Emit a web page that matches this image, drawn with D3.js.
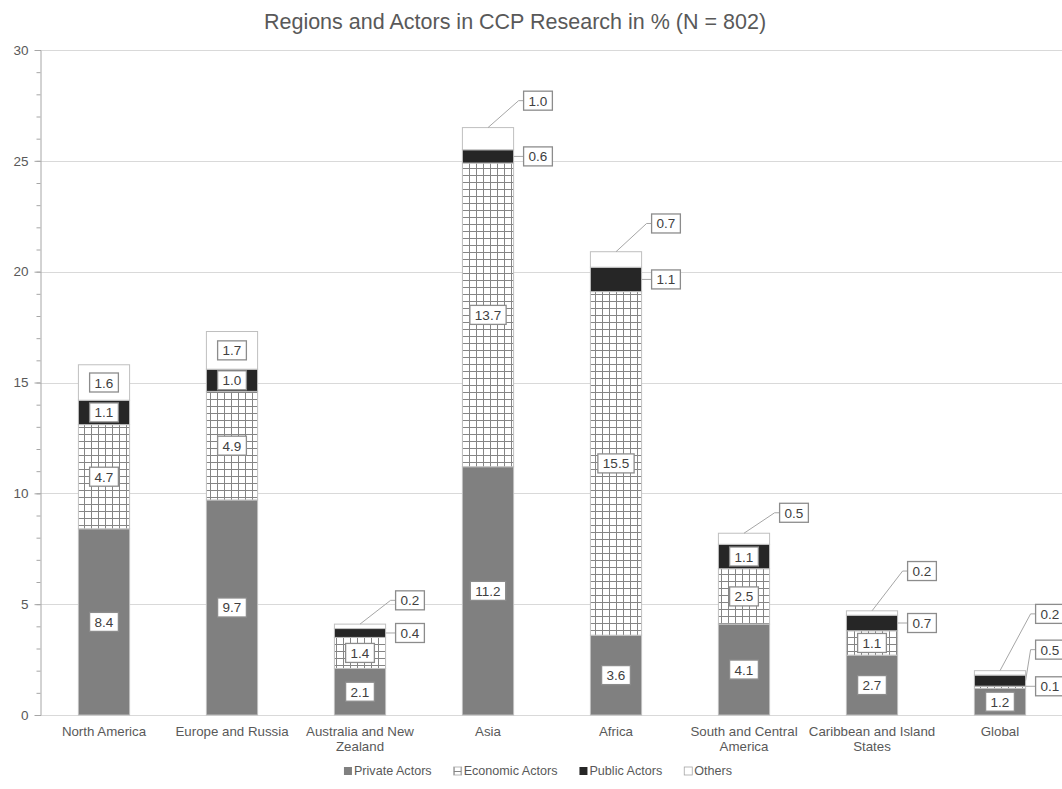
<!DOCTYPE html>
<html>
<head>
<meta charset="utf-8">
<script src="https://cdn.jsdelivr.net/npm/d3@7/dist/d3.min.js"></script>
<style>
  html, body { margin: 0; padding: 0; background: #fff; }
  svg { display: block; font-family: "Liberation Sans", Arial, sans-serif; }
</style>
</head>
<body>
<svg id="chart" width="1062" height="789"></svg>
<script>
// ---- data -------------------------------------------------------------
const categories = ["North America", "Europe and Russia", "Australia and New Zealand",
  "Asia", "Africa", "South and Central America", "Caribbean and Island States", "Global"];
const seriesNames = ["Private Actors", "Economic Actors", "Public Actors", "Others"];
const privateActors  = [8.4, 9.7, 2.1, 11.2, 3.6, 4.1, 2.7, 1.2];
const economicActors = [4.7, 4.9, 1.4, 13.7, 15.5, 2.5, 1.1, 0.1];
const publicActors   = [1.1, 1.0, 0.4, 0.6, 1.1, 1.1, 0.7, 0.5];
const others         = [1.6, 1.7, 0.2, 1.0, 0.7, 0.5, 0.2, 0.2];
const yTicks = [0, 5, 10, 15, 20, 25, 30];
const title = "Regions and Actors in CCP Research in % (N = 802)";

// labels placed beside the bar: [category index, series index, vertical shift in px]
const sideLabels = [
  [2, 3, -26], [2, 2, 0],
  [3, 3, -38], [3, 2, 0],
  [4, 3, -36], [4, 2, 0],
  [5, 3, -26],
  [6, 3, -42], [6, 2, 0],
  [7, 3, -59], [7, 2, -31], [7, 1, -1]
];

// ---- setup ------------------------------------------------------------
const svg = d3.select("#chart");
const W = 1062, H = 789;
const textColor = "#595959";

const x = d3.scaleBand().domain(categories).range([40, 40 + 128 * 8]).paddingInner(0.6).paddingOuter(0.3);
const y = d3.scaleLinear().domain([0, 30]).range([715, 50]);

const table = categories.map((c, i) => ({
  cat: c,
  "Private Actors": privateActors[i],
  "Economic Actors": economicActors[i],
  "Public Actors": publicActors[i],
  "Others": others[i]
}));
const stacked = d3.stack().keys(seriesNames)(table);

// grid pattern for economic actors
const defs = svg.append("defs");
const pat = defs.append("pattern").attr("id", "grid")
  .attr("patternUnits", "userSpaceOnUse").attr("width", 7).attr("height", 7);
pat.append("rect").attr("width", 7).attr("height", 7).attr("fill", "#fff");
pat.append("path").attr("d", "M0.5,0V7M0,0.5H7").attr("stroke", "#858585").attr("stroke-width", 1);

const fills = {
  "Private Actors": "#808080",
  "Economic Actors": "url(#grid)",
  "Public Actors": "#262626",
  "Others": "#ffffff"
};

// title
svg.append("text").attr("x", 515).attr("y", 29).attr("text-anchor", "middle")
  .attr("font-size", 21.5).attr("fill", textColor).text(title);

// gridlines
svg.append("g").selectAll("line").data(yTicks).join("line")
  .attr("x1", 40).attr("x2", W).attr("y1", d => Math.round(y(d)) + 0.5).attr("y2", d => Math.round(y(d)) + 0.5)
  .attr("stroke", "#d9d9d9").attr("stroke-width", 1);

// y axis with minor ticks
const yAxisG = svg.append("g").attr("transform", "translate(40.5,0)");
yAxisG.call(d3.axisLeft(y).tickValues(d3.range(0, 31, 1)).tickSize(4).tickFormat(""));
yAxisG.select(".domain").attr("stroke", "#a6a6a6");
yAxisG.selectAll(".tick line").attr("stroke", "#a6a6a6");
const yMajor = svg.append("g").attr("transform", "translate(40.5,0)");
yMajor.call(d3.axisLeft(y).tickValues(yTicks).tickSize(6).tickPadding(6).tickFormat(d3.format("d")));
yMajor.select(".domain").remove();
yMajor.selectAll(".tick line").attr("stroke", "#a6a6a6");
yMajor.selectAll(".tick text").attr("fill", textColor).attr("font-size", 13.5)
  .attr("font-family", "Liberation Sans, Arial, sans-serif");

// bars
const barG = svg.append("g");
stacked.forEach(layer => {
  barG.append("g").selectAll("rect").data(layer).join("rect")
    .attr("x", d => x(d.data.cat))
    .attr("width", x.bandwidth())
    .attr("y", d => y(d[1]))
    .attr("height", d => y(d[0]) - y(d[1]))
    .attr("fill", fills[layer.key])
    .attr("stroke", "#bfbfbf").attr("stroke-width", 1);
});

// x axis labels
const xAxisG = svg.append("g").attr("transform", "translate(0,715)");
xAxisG.call(d3.axisBottom(x).tickSize(0).tickPadding(12));
xAxisG.select(".domain").remove();
xAxisG.selectAll(".tick text").attr("fill", textColor).attr("font-size", 13.3)
  .attr("font-family", "Liberation Sans, Arial, sans-serif")
  .each(function () { wrap(d3.select(this), 132); });

function wrap(textSel, width) {
  const words = textSel.text().split(/\s+/);
  const xPos = textSel.attr("x") || 0;
  const yPos = textSel.attr("y");
  const dy = parseFloat(textSel.attr("dy")) || 0;
  textSel.text(null);
  let line = [];
  let lineNo = 0;
  let tspan = textSel.append("tspan").attr("x", xPos).attr("y", yPos).attr("dy", dy + "em");
  for (const w of words) {
    line.push(w);
    tspan.text(line.join(" "));
    if (tspan.node().getComputedTextLength() > width && line.length > 1) {
      line.pop();
      tspan.text(line.join(" "));
      line = [w];
      lineNo++;
      tspan = textSel.append("tspan").attr("x", xPos).attr("y", yPos)
        .attr("dy", (dy + lineNo * 1.1) + "em").text(w);
    }
  }
}

// value labels
const labelG = svg.append("g");
const fmt = d3.format(".1f");
const isSide = (ci, si) => sideLabels.some(s => s[0] === ci && s[1] === si);

function labelBox(cx, cy, txt, anchor) {
  const g = labelG.append("g");
  const t = g.append("text").attr("font-size", 13.5).attr("fill", "#404040")
    .attr("dominant-baseline", "central").text(txt);
  const w = t.node().getComputedTextLength() + 10;
  const h = 19;
  const left = anchor === "left" ? cx : cx - w / 2;
  g.insert("rect", "text").attr("x", left).attr("y", cy - h / 2).attr("width", w).attr("height", h)
    .attr("fill", "#fff").attr("stroke", "#8c8c8c").attr("stroke-width", 1.3);
  t.attr("x", left + w / 2).attr("y", cy + 0.5).attr("text-anchor", "middle");
}

stacked.forEach((layer, si) => {
  layer.forEach((d, ci) => {
    if (isSide(ci, si)) return;
    const cx = x(d.data.cat) + x.bandwidth() / 2;
    const cy = (y(d[0]) + y(d[1])) / 2;
    labelBox(cx, cy, fmt(d.data[layer.key]), "middle");
  });
});

sideLabels.forEach(([ci, si, shift]) => {
  const d = stacked[si][ci];
  const barLeft = x(d.data.cat);
  const barRight = barLeft + x.bandwidth();
  const mid = (y(d[0]) + y(d[1])) / 2;
  const boxY = mid + shift;
  const boxLeft = barRight + 10;
  const topmost = si === seriesNames.length - 1;
  let path;
  if (Math.abs(shift) < 3) {
    path = `M${barRight},${boxY}H${boxLeft}`;
  } else if (topmost) {
    path = `M${barLeft + x.bandwidth() / 2},${y(d[1])}L${boxLeft - 5},${boxY}H${boxLeft}`;
  } else {
    path = `M${barRight},${mid}L${boxLeft - 5},${boxY}H${boxLeft}`;
  }
  labelG.append("path").attr("d", path).attr("fill", "none")
    .attr("stroke", "#a6a6a6").attr("stroke-width", 1);
  labelBox(boxLeft, boxY, fmt(d.data[seriesNames[si]]), "left");
});
// keep boxes above leader lines
labelG.selectAll("g").raise();

// legend
const legend = svg.append("g");
let lx = 0;
seriesNames.forEach(name => {
  const g = legend.append("g").attr("transform", `translate(${lx},0)`);
  g.append("rect").attr("x", 0).attr("y", -4).attr("width", 8).attr("height", 8)
    .attr("fill", fills[name])
    .attr("stroke", name === "Private Actors" || name === "Public Actors" ? "none" : "#a6a6a6")
    .attr("stroke-width", 0.8);
  const t = g.append("text").attr("x", 10).attr("y", 0).attr("dominant-baseline", "central")
    .attr("font-size", 12.6).attr("fill", textColor).text(name);
  lx += 10 + t.node().getComputedTextLength() + 22;
});
const legendWidth = lx - 22;
legend.attr("transform", `translate(${538 - legendWidth / 2},771)`);
</script>
</body>
</html>
